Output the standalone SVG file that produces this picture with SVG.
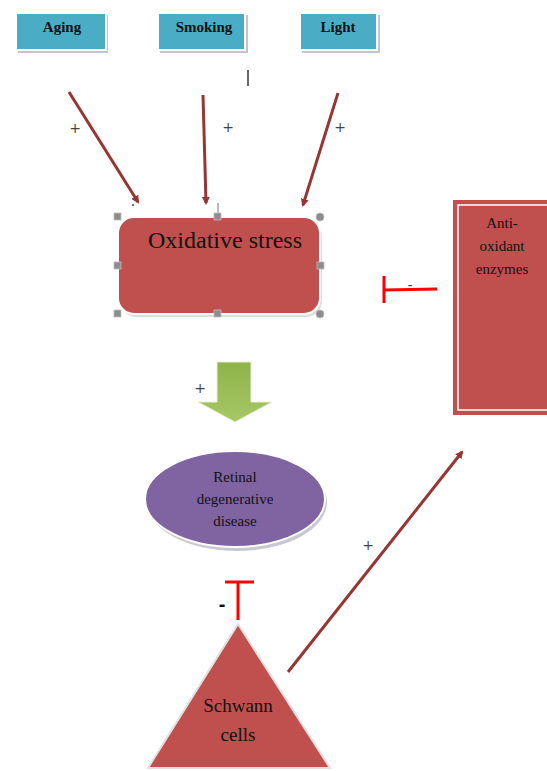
<svg xmlns="http://www.w3.org/2000/svg" width="547" height="771" viewBox="0 0 547 771">
<defs>
<style>
.lbl{font-family:'Liberation Serif','DejaVu Serif',serif;fill:#111;text-anchor:middle}
.sign{font-family:'DejaVu Sans','Liberation Sans',sans-serif;fill:#444;font-size:14px;text-anchor:middle}
.box{fill:#4bacc6;stroke:#ffffff;stroke-width:2}
.shadow{fill:#9aa0a6;opacity:0.6}
.arr{stroke:#943634;stroke-width:3;fill:none;marker-end:url(#ah)}
.inh{stroke:#ff0000;stroke-width:3;fill:none}
.handle{fill:#8c8c8c;stroke:#bdbdbd;stroke-width:0.8}
</style>
<marker id="ah" markerWidth="10" markerHeight="10" refX="6" refY="4" orient="auto" markerUnits="userSpaceOnUse">
<path d="M0,0 L8,4 L0,8 z" fill="#943634"/>
</marker>
<linearGradient id="gr" x1="0" y1="0" x2="0" y2="1">
<stop offset="0" stop-color="#8fb34a"/>
<stop offset="1" stop-color="#a6c866"/>
</linearGradient>
</defs>
<rect width="547" height="771" fill="#ffffff"/>

<g id="aging">
<rect class="shadow" x="18" y="15" width="90" height="38"/>
<rect class="box" x="16" y="13" width="90" height="37"/>
<text class="lbl" font-family="Liberation Serif, serif" x="62" y="32" font-size="15" font-weight="bold">Aging</text>
</g>
<g id="smoking">
<rect class="shadow" x="160" y="15" width="88" height="38"/>
<rect class="box" x="158" y="13" width="87" height="37"/>
<text class="lbl" font-family="Liberation Serif, serif" x="204" y="32" font-size="15" font-weight="bold">Smoking</text>
</g>
<g id="light">
<rect class="shadow" x="302" y="15" width="78" height="38"/>
<rect class="box" x="300" y="13" width="77" height="37"/>
<text class="lbl" font-family="Liberation Serif, serif" x="338" y="32" font-size="15" font-weight="bold">Light</text>
</g>

<g id="oxidative-stress">
<rect x="120" y="220" width="202" height="97" rx="16" fill="#c8c8c8" opacity="0.6"/>
<rect x="118" y="217" width="202" height="97" rx="16" fill="#c0504d" stroke="#ffffff" stroke-width="2"/>
<text class="lbl" font-family="Liberation Serif, serif" x="225" y="248" font-size="24">Oxidative stress</text>
<line x1="218" y1="203" x2="218" y2="217" stroke="#777" stroke-width="1"/>
<rect class="handle" x="114" y="213" width="7" height="7"/>
<rect class="handle" x="214" y="213" width="7" height="7"/>
<circle class="handle" cx="320" cy="217" r="4"/>
<rect class="handle" x="114" y="262" width="7" height="7"/>
<rect class="handle" x="317" y="262" width="7" height="7"/>
<rect class="handle" x="114" y="310" width="7" height="7"/>
<rect class="handle" x="214" y="310" width="7" height="7"/>
<circle class="handle" cx="320" cy="314" r="4"/>
</g>

<g id="antioxidant-enzymes">
<rect x="453" y="200" width="100" height="215" fill="#c0504d"/>
<rect x="458" y="205" width="95" height="205" fill="none" stroke="#ffffff" stroke-width="1.5"/>
<text class="lbl" font-family="Liberation Serif, serif" x="502" y="228" font-size="15">Anti-</text>
<text class="lbl" font-family="Liberation Serif, serif" x="502" y="251" font-size="15">oxidant</text>
<text class="lbl" font-family="Liberation Serif, serif" x="502" y="274" font-size="15">enzymes</text>
</g>

<g id="retinal-degenerative-disease">
<ellipse cx="237" cy="502" rx="90" ry="49" fill="#c8c8d0"/>
<ellipse cx="235" cy="499" rx="90" ry="48" fill="#8064a2" stroke="#ffffff" stroke-width="2"/>
<text class="lbl" font-family="Liberation Serif, serif" x="235" y="482" font-size="15">Retinal</text>
<text class="lbl" font-family="Liberation Serif, serif" x="235" y="504" font-size="15">degenerative</text>
<text class="lbl" font-family="Liberation Serif, serif" x="235" y="526" font-size="15">disease</text>
</g>

<g id="schwann-cells">
<polygon points="238,624 148,768 330,768" fill="#c0504d" stroke="#e0e0e0" stroke-width="2"/>
<text class="lbl" font-family="Liberation Serif, serif" x="238" y="712" font-size="19">Schwann</text>
<text class="lbl" font-family="Liberation Serif, serif" x="238" y="741" font-size="19">cells</text>
</g>

<g id="connectors">
<line class="arr" x1="69" y1="92" x2="138" y2="202"/>
<line class="arr" x1="203" y1="95" x2="206" y2="203"/>
<line class="arr" x1="338" y1="93" x2="303" y2="205"/>
<line class="arr" x1="288" y1="672" x2="462" y2="452"/>
<polygon points="217,362 251,362 251,402 272,402 235,422 198,402 217,402" fill="url(#gr)" stroke="#e8efd8" stroke-width="1"/>
<polyline class="inh" points="384,276 384,303"/>
<line class="inh" x1="384" y1="290" x2="437" y2="289"/>
<line class="inh" x1="225" y1="582" x2="254" y2="582"/>
<line class="inh" x1="238" y1="582" x2="238" y2="620"/>
</g>

<g id="labels">
<text class="sign" x="75" y="133">+</text>
<text class="sign" x="228" y="132">+</text>
<text class="sign" x="340" y="132">+</text>
<text class="sign" x="200" y="393">+</text>
<text class="sign" x="368" y="550">+</text>
<text class="sign" x="410" y="290" font-size="12">-</text>
<text x="222" y="611" font-family="Liberation Sans, Arial, sans-serif" font-size="20" font-weight="bold" fill="#111" text-anchor="middle">-</text>
<line x1="248" y1="70" x2="248" y2="86" stroke="#333" stroke-width="1.5"/>
<circle cx="133" cy="205" r="0.9" fill="#333"/>
</g>
</svg>
